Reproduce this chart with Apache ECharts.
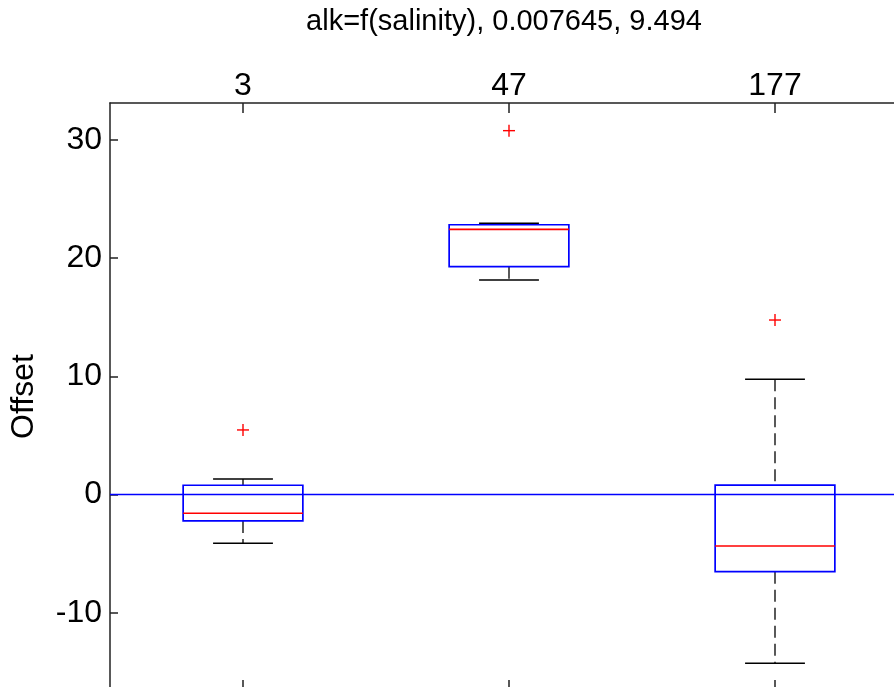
<!DOCTYPE html>
<html>
<head>
<meta charset="utf-8">
<script src="https://cdn.jsdelivr.net/npm/echarts@6/dist/echarts.min.js"></script>
<style>
  html, body { margin: 0; padding: 0; background: #fff; }
  #chart { width: 894px; height: 687px; }
</style>
</head>
<body>
<div id="chart"></div>
<script>
// Group labels along the top axis
const categories = ['3', '47', '177'];

// Box statistics per group
const lowerWhisker = [-4.12, 18.16, -14.27];
const q1 = [-2.23, 19.28, -6.52];
const median = [-1.58, 22.44, -4.35];
const q3 = [0.79, 22.83, 0.81];
const upperWhisker = [1.32, 22.95, 9.75];

// Outliers: [group index, value]
const outlierGroup = [0, 1, 2];
const outlierValue = [5.47, 30.79, 14.77];

const titleText = 'alk=f(salinity), 0.007645, 9.494';
const yName = 'Offset';

const FONT = '"Liberation Sans", Arial, Helvetica, sans-serif';
const BLUE = '#0000ff';
const RED = '#ff0000';

const boxData = categories.map((c, i) => [i, lowerWhisker[i], q1[i], median[i], q3[i], upperWhisker[i]]);
const outlierData = outlierGroup.map((g, i) => [g, outlierValue[i]]);

const chart = echarts.init(document.getElementById('chart'), null, { renderer: 'canvas' });

function renderBox(params, api) {
  const idx = api.value(0);
  const band = api.size([1, 0])[0];
  const half = band * 0.225;
  const capHalf = half / 2;
  const cx = api.coord([idx, 0])[0];
  const py = v => api.coord([idx, v])[1];
  const yLw = py(api.value(1));
  const yQ1 = py(api.value(2));
  const yMed = py(api.value(3));
  const yQ3 = py(api.value(4));
  const yUw = py(api.value(5));
  const dashStyle = { stroke: '#000', lineWidth: 1.3, lineDash: [12, 6], fill: null };
  const solid = (c, w) => ({ stroke: c, lineWidth: w, fill: null });
  return {
    type: 'group',
    children: [
      { type: 'line', shape: { x1: cx, y1: yUw, x2: cx, y2: yQ3 }, style: dashStyle },
      { type: 'line', shape: { x1: cx, y1: yQ1, x2: cx, y2: yLw }, style: dashStyle },
      { type: 'line', shape: { x1: cx - capHalf, y1: yUw, x2: cx + capHalf, y2: yUw }, style: solid('#000', 1.5) },
      { type: 'line', shape: { x1: cx - capHalf, y1: yLw, x2: cx + capHalf, y2: yLw }, style: solid('#000', 1.5) },
      { type: 'rect', shape: { x: cx - half, y: yQ3, width: half * 2, height: yQ1 - yQ3 }, style: solid(BLUE, 1.7) },
      { type: 'line', shape: { x1: cx - half, y1: yMed, x2: cx + half, y2: yMed }, style: solid(RED, 1.6) }
    ]
  };
}

function renderOutlier(params, api) {
  const p = api.coord([api.value(0), api.value(1)]);
  const s = 6;
  return {
    type: 'group',
    children: [
      { type: 'line', shape: { x1: p[0] - s, y1: p[1], x2: p[0] + s, y2: p[1] }, style: { stroke: RED, lineWidth: 1.4 } },
      { type: 'line', shape: { x1: p[0], y1: p[1] - s, x2: p[0], y2: p[1] + s }, style: { stroke: RED, lineWidth: 1.4 } }
    ]
  };
}

const axisLine = { show: true, onZero: false, lineStyle: { color: '#222', width: 1.5 } };

chart.setOption({
  animation: false,
  backgroundColor: '#fff',
  graphic: [{
    type: 'text',
    x: 504,
    y: 22,
    style: {
      text: titleText,
      font: '29px ' + FONT,
      fill: '#000',
      textAlign: 'center',
      textVerticalAlign: 'middle',
      align: 'center',
      verticalAlign: 'middle'
    }
  }],
  grid: { left: 110, top: 103, width: 798, height: 587, containLabel: false, outerBoundsMode: 'none' },
  xAxis: [
    {
      type: 'category',
      data: categories,
      position: 'top',
      boundaryGap: true,
      axisLine: axisLine,
      axisTick: { show: true, inside: true, alignWithLabel: true, length: 10, lineStyle: { color: '#222', width: 1.5 } },
      axisLabel: { fontFamily: FONT, fontSize: 32, color: '#000', margin: 1 },
      splitLine: { show: false }
    },
    {
      type: 'category',
      data: categories,
      position: 'bottom',
      boundaryGap: true,
      axisLine: axisLine,
      axisTick: { show: true, inside: true, alignWithLabel: true, length: 10, lineStyle: { color: '#222', width: 1.5 } },
      axisLabel: { show: false },
      splitLine: { show: false }
    }
  ],
  yAxis: {
    type: 'value',
    min: -16.53,
    max: 33.13,
    splitNumber: 5,
    name: yName,
    nameLocation: 'middle',
    nameGap: 70,
    nameTextStyle: { fontFamily: FONT, fontSize: 32, color: '#000' },
    axisLine: axisLine,
    axisTick: { show: true, inside: true, length: 8, lineStyle: { color: '#222', width: 1.5 } },
    axisLabel: { fontFamily: FONT, fontSize: 32, color: '#000', margin: 8, showMinLabel: false, showMaxLabel: false },
    splitLine: { show: false }
  },
  series: [
    {
      type: 'custom',
      xAxisIndex: 0,
      renderItem: renderBox,
      data: boxData,
      encode: { x: 0, y: [1, 2, 3, 4, 5] },
      markLine: {
        silent: true,
        symbol: ['none', 'none'],
        label: { show: false },
        lineStyle: { color: BLUE, type: 'solid', width: 1.3 },
        data: [{ yAxis: 0 }]
      },
      z: 2
    },
    {
      type: 'custom',
      xAxisIndex: 0,
      renderItem: renderOutlier,
      data: outlierData,
      encode: { x: 0, y: 1 },
      z: 3
    }
  ]
});
</script>
</body>
</html>
